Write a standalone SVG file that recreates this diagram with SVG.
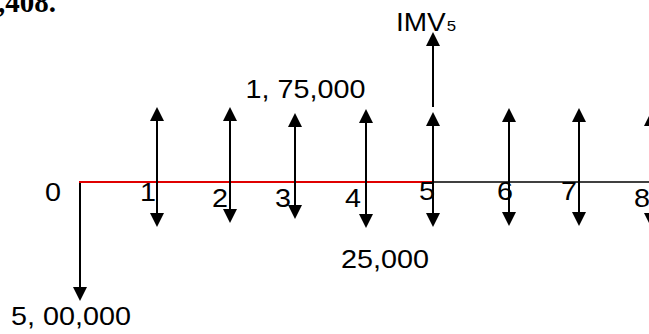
<svg xmlns="http://www.w3.org/2000/svg" width="649" height="334" viewBox="0 0 649 334">
<style>
.t{font-family:"Liberation Sans",Arial,sans-serif;font-size:25px;fill:#000}
.s{font-family:"Liberation Sans",Arial,sans-serif;font-size:15px;fill:#000}
.ar{stroke:#000;stroke-width:2;fill:none;marker-start:url(#ah);marker-end:url(#ah)}
.up{stroke:#000;stroke-width:2;fill:none;marker-end:url(#ah)}
</style>
<defs>
<marker id="ah" viewBox="0 0 14 14" refX="7" refY="7" markerWidth="14" markerHeight="14" markerUnits="userSpaceOnUse" orient="auto-start-reverse">
<path d="M0,0 L14,7 L0,14 z" fill="#000"/>
</marker>
</defs>
<rect width="649" height="334" fill="#fff"/>
<text x="-2" y="12" font-family="'Liberation Serif','Times New Roman',serif" font-size="29" font-weight="bold">,408.</text>
<g id="connectors">
<line x1="433" y1="182" x2="649" y2="182" stroke="#000" stroke-width="1.6"/>
<line x1="80" y1="182" x2="80" y2="294" class="up"/>
<line x1="79" y1="182" x2="433" y2="182" stroke="#e00000" stroke-width="2"/>
</g>
<g id="period0"><text class="t" transform="translate(45,201) scale(1.15,1)">0</text></g>
<g id="period1"><line class="ar" x1="157" y1="114" x2="157" y2="220"/><text class="t" transform="translate(140,201) scale(1.15,1)">1</text></g>
<g id="period2"><line class="ar" x1="230" y1="114" x2="230" y2="216"/><text class="t" transform="translate(212,207) scale(1.15,1)">2</text></g>
<g id="period3"><line class="ar" x1="295" y1="120" x2="295" y2="212"/><text class="t" transform="translate(275,207) scale(1.15,1)">3</text></g>
<g id="period4"><line class="ar" x1="366" y1="116" x2="366" y2="221"/><text class="t" transform="translate(345,207) scale(1.15,1)">4</text></g>
<g id="period5">
<line class="ar" x1="433" y1="119" x2="433" y2="220"/>
<line class="up" x1="433" y1="107" x2="433" y2="39"/>
<text class="t" transform="translate(419,200) scale(1.15,1)">5</text>
</g>
<g id="period6"><line class="ar" x1="509" y1="115" x2="509" y2="219"/><text class="t" transform="translate(497,200) scale(1.15,1)">6</text></g>
<g id="period7"><line class="ar" x1="579" y1="115" x2="579" y2="219"/><text class="t" transform="translate(561,200) scale(1.15,1)">7</text></g>
<g id="period8"><line class="ar" x1="651" y1="119" x2="651" y2="220"/><text class="t" transform="translate(634,207) scale(1.15,1)">8</text></g>
<g id="labels">
<text class="t" transform="translate(396,31) scale(1.12,1)">IMV<tspan class="s" dx="1">5</tspan></text>
<text class="t" transform="translate(245.5,98) scale(1.15,1)">1, 75,000</text>
<text class="t" transform="translate(341,268) scale(1.15,1)">25,000</text>
<text class="t" transform="translate(11,325) scale(1.15,1)">5, 00,000</text>
</g>
</svg>
